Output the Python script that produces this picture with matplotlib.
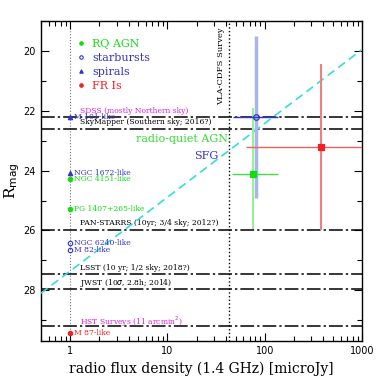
import numpy as np
import matplotlib
matplotlib.use('Agg')
import matplotlib.pyplot as plt
from matplotlib.lines import Line2D
from matplotlib.ticker import FixedLocator, LogLocator, NullFormatter, MultipleLocator

SERIF = 'DejaVu Serif'
SANS = 'DejaVu Sans'

# survey depth limits (R mag) and their labels
survey_names = ['SDSS (mostly Northern sky)', 'SkyMapper (Southern sky; 2016?)',
                'PAN-STARRS (10yr; 3/4 sky; 2012?)', 'LSST (10 yr; 1/2 sky; 2018?)',
                'JWST (10$\\sigma$, 2.8h; 2014)', 'HST Surveys (11 arcmin$^2$)']
survey_mags = [22.2, 22.6, 26.0, 27.45, 27.95, 29.2]
survey_colors = ['#dd22dd', 'black', 'black', 'black', 'black', '#dd22dd']

# local template galaxies placed at 1 microJy
template_names = ['M 101-like', 'NGC 1672-like', 'NGC 4151-like', 'PG 1407+265-like',
                  'NGC 6240-like', 'M 82-like', 'M 87-like']
template_mags = [22.2, 24.07, 24.27, 25.27, 26.42, 26.67, 29.42]
template_kind = ['spiral', 'spiral', 'rq', 'rq', 'starburst', 'starburst', 'fr']
template_flux = 1.0

# population means with errors: flux (uJy), R mag
pop_kind = ['starburst', 'rq', 'fr']
pop_flux = [81, 76, 380]
pop_flux_lo = [34, 30, 316]
pop_flux_hi = [55, 60, 620]
pop_mag = [22.2, 24.1, 23.2]
pop_mag_lo = [2.7, 2.2, 2.77]
pop_mag_hi = [2.7, 1.85, 2.77]

# radio-quiet AGN / SFG dividing line
rq_line_flux = [0.5, 1000]
rq_line_mag = [28.1, 19.95]

vla_limit = 43

styles = {
    'rq': dict(marker='o', mfc='#11dd11', mec='#11dd11', color='#11dd11', label='RQ AGN'),
    'starburst': dict(marker='o', mfc='none', mec='#3333cc', color='#3333cc', label='starbursts'),
    'spiral': dict(marker='^', mfc='#3333cc', mec='#3333cc', color='#3333cc', label='spirals'),
    'fr': dict(marker='o', mfc='#ee2222', mec='#ee2222', color='#ee2222', label='FR Is'),
}
light = {'rq': '#99ee99', 'starburst': '#aab4ee', 'fr': '#f08080'}
hbar = {'rq': '#44dd44', 'starburst': '#3333cc', 'fr': '#f06060'}

fig = plt.figure(figsize=(3.82, 3.82), dpi=100)
ax = fig.add_axes([0.107, 0.107, 0.841, 0.838])
ax.set_xscale('log')
ax.set_xlim(0.5, 1000)
ax.set_ylim(29.7, 19.0)

# survey lines
for name, m, c in zip(survey_names, survey_mags, survey_colors):
    ax.axhline(m, color='black', lw=1.1, dashes=(9, 2, 1.5, 2), zorder=2)
label_mags = [22.0, 22.38, 25.75, 27.25, 27.75, 29.07]
for name, lm, c in zip(survey_names, label_mags, survey_colors):
    ax.text(1.25, lm, name, color=c, fontsize=5.5, family=SERIF, va='center', ha='left')

# vertical lines
ax.axvline(template_flux, color='#777777', ls=':', lw=0.8, zorder=1)
ax.axvline(vla_limit, color='black', ls=':', lw=1.0, zorder=1)
ax.text(vla_limit * 0.9, 19.2, 'VLA-CDFS Survey', rotation=90, fontsize=6,
        family=SERIF, ha='right', va='top')

# dividing line
ax.plot(rq_line_flux, rq_line_mag, color='#33dddd', lw=1.2, dashes=(5, 3), zorder=3)
ax.text(14, 22.95, 'radio-quiet AGN', color='#33dd33', fontsize=8, family=SERIF,
        ha='center', va='center')
ax.text(25, 23.5, 'SFG', color='#3333cc', fontsize=8, family=SERIF,
        ha='center', va='center')

# population errors
for k, f, flo, fhi, m, mlo, mhi in zip(pop_kind, pop_flux, pop_flux_lo, pop_flux_hi,
                                      pop_mag, pop_mag_lo, pop_mag_hi):
    ax.errorbar([f], [m], yerr=[[mlo], [mhi]], fmt='none', ecolor=light[k],
                elinewidth=2.5 if k == 'starburst' else 1.5, capsize=0, zorder=4)
    ax.errorbar([f], [m], xerr=[[flo], [fhi]], fmt='none', ecolor=hbar[k], elinewidth=1.0,
                capsize=0, zorder=5)
    st = styles[k]
    ax.plot([f], [m], ls='none', marker='s' if k != 'starburst' else 'o', ms=4,
            mfc=st['mfc'], mec=st['mec'], mew=0.9, zorder=6)

# templates
for name, m, k in zip(template_names, template_mags, template_kind):
    st = styles[k]
    ax.plot([template_flux], [m], ls='none', marker=st['marker'], ms=3.2,
            mfc=st['mfc'], mec=st['mec'], mew=0.8, zorder=6)
    ax.text(template_flux * 1.1, m, name, color=st['color'], fontsize=5.5, family=SERIF,
            va='center', ha='left')

# legend
handles = [Line2D([], [], ls='none', marker=styles[k]['marker'], ms=2.5, mfc=styles[k]['mfc'],
                  mec=styles[k]['mec'], mew=0.8, label=styles[k]['label'])
           for k in ['rq', 'starburst', 'spiral', 'fr']]
leg = ax.legend(handles=handles, loc='upper left', bbox_to_anchor=(0.08, 0.975), frameon=False,
                prop={'family': SERIF, 'size': 8}, handlelength=0.8, handletextpad=0.6,
                labelspacing=0.35,
                labelcolor=['#11dd11', '#3333cc', '#3333cc', '#ee2222'])

# ticks
ax.xaxis.set_major_locator(FixedLocator([1, 10, 100, 1000]))
ax.xaxis.set_minor_locator(LogLocator(base=10, subs=np.arange(2, 10)))
ax.xaxis.set_minor_formatter(NullFormatter())
ax.set_xticklabels(['1', '10', '100', '1000'])
ax.yaxis.set_major_locator(MultipleLocator(2))
ax.yaxis.set_minor_locator(MultipleLocator(1))
ax.tick_params(which='both', direction='in', top=True, right=True, labelsize=7, width=0.8)
ax.tick_params(which='major', length=6)
ax.tick_params(which='minor', length=3.5)
for lab in ax.get_xticklabels() + ax.get_yticklabels():
    lab.set_family(SANS)
for s in ax.spines.values():
    s.set_linewidth(1.0)

ax.set_xlabel('radio flux density (1.4 GHz) [microJy]', family=SERIF, fontsize=10)
ax.set_ylabel('R$_{\\rm mag}$', family=SERIF, fontsize=11, labelpad=1)

fig.savefig('out.png', dpi=100)
